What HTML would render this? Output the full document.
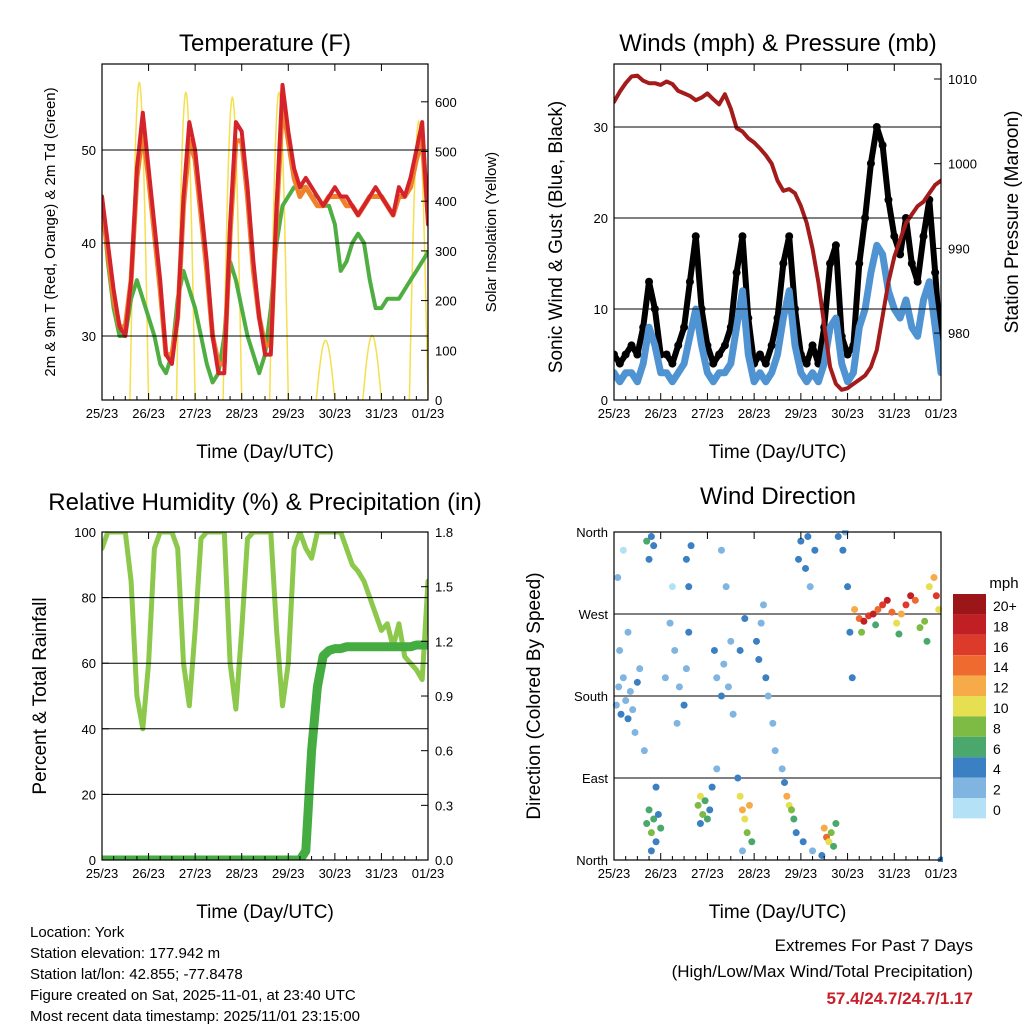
<!DOCTYPE html>
<html><head><meta charset="utf-8"><style>
body{margin:0;background:#fff;}
svg text{font-family:"Liberation Sans",sans-serif;}
</style></head><body>
<svg id="s" width="1024" height="1024" xmlns="http://www.w3.org/2000/svg"></svg>
<script>
// ---- data (3-hourly, day 0 = 25/23 .. day 7 = 01/23) ----
const dayLabels=["25/23","26/23","27/23","28/23","29/23","30/23","31/23","01/23"];
const tempRed=[45,40,35,31,30,36,48,54, 48,42,36,28,27,32,45,53, 50,44,38,30,26,26,42,53, 52,46,38,32,28,28,44,57, 52,48,46,47,46,45,44,45, 46,45,45,44,43,44,45,46, 45,44,43,46,45,47,50,53, 42];
const tempOrange=[44,39,34,31,31,36,47,52, 47,41,35,28,28,32,44,51, 49,43,37,30,27,27,41,51, 51,45,37,32,29,29,43,55, 51,47,45,46,45,44,44,45, 45,45,44,44,43,44,45,45, 45,44,43,45,45,46,49,51, 43];
const dewGreen=[45,38,33,30,30,34,36,34, 32,30,27,26,28,34,37,35, 33,30,27,25,26,30,38,36, 33,30,28,26,28,33,40,44, 45,46,46,46,45,45,44,44, 42,37,38,40,41,40,36,33, 33,34,34,34,35,36,37,38, 39];
const solarPeak=[640,620,610,620,120,130,560];
const windMean=[3,2,3,3,2,4,8,6, 3,3,2,3,4,7,10,6, 3,2,3,3,4,8,12,5, 2,3,2,3,5,9,12,6, 3,2,3,2,4,8,9,4, 2,3,8,10,14,17,16,12, 10,9,11,8,7,11,13,8, 3];
const windGust=[5,4,5,6,5,8,13,10, 5,5,4,6,8,13,18,10, 6,4,5,6,8,14,18,9, 4,5,4,6,9,15,18,10, 5,4,6,4,8,15,17,7, 5,6,15,20,26,30,28,22, 18,16,20,15,13,18,22,14, 5];
const pressure=[1007.3,1008.5,1009.5,1010.3,1010.4,1009.8,1009.5,1009.5, 1009.3,1009.7,1009.4,1008.6,1008.3,1008,1007.5,1007.8, 1008.3,1007.6,1007,1008.2,1006.5,1004.2,1003.8,1003, 1002.5,1001.8,1001,1000,998,996.8,997,996.5, 995,993,990,986,981,976,974,973.3, 973.5,974,974.5,975,976,978,982,986, 989,991,993,994,995,995.5,996.5,997.5, 998];
const rhPct=[95,100,100,100,100,85,50,40, 60,95,100,100,100,95,60,47, 70,98,100,100,100,100,60,46, 70,98,100,100,100,100,70,47, 60,95,100,95,92,100,100,100, 100,100,95,90,88,85,80,75, 70,72,65,72,62,60,58,55, 85];
const precipIn=[0,0,0,0,0,0,0,0, 0,0,0,0,0,0,0,0, 0,0,0,0,0,0,0,0, 0,0,0,0,0,0,0,0, 0,0,0,0.05,0.6,0.95,1.12,1.15, 1.16,1.16,1.17,1.17,1.17,1.17,1.17,1.17, 1.17,1.17,1.17,1.17,1.17,1.17,1.18,1.18, 1.18];
const wdDay=[0.05,0.1,0.15,0.2,0.25,0.3,0.35,0.4,0.45,0.5,0.55,0.12,0.3,0.08,0.2, 0.7,0.75,0.8,0.85,0.9,0.95,1.0,0.8,0.9,0.7,0.75,0.8,0.85,0.65, 1.1,1.2,1.3,1.4,1.5,1.55,1.25,1.35, 1.55,1.6,1.65,1.6, 1.8,1.85,1.9,1.95,2.0,2.05,1.85,2.1, 2.15,2.2,2.3,2.35,2.45,2.5,2.55,2.4,2.3,2.2, 2.7,2.75,2.8,2.85,2.9,2.95,2.65,2.75,2.7,2.8, 3.05,3.1,3.15,3.25,3.3,3.4,3.45,3.2, 3.7,3.75,3.8,3.85,3.65,3.9,3.6, 3.95,4.0,4.1,4.2,4.3,4.15,4.05,4.25, 4.5,4.55,4.6,4.65,4.7,4.75,4.45,4.8, 4.9,5.0,5.05,5.1,4.95, 5.15,5.25,5.35,5.45,5.55,5.65,5.75,5.85,5.95,6.05,6.15,6.25,6.35,6.45,6.55,6.65,6.75,6.85,6.9,6.95,5.3,5.6,6.1,6.7,7.0];
const wdDir=[170,190,160,200,175,155,185,165,140,195,210,230,250,310,340, 40,55,30,45,20,50,35,10,80,350,330,355,345,120, 200,260,230,190,170,210,300,150, 330,300,345,250, 60,70,50,65,45,55,40,80, 230,200,180,215,190,240,160,300,340,100, 70,55,45,30,60,20,90,10,230,265, 240,220,260,200,180,150,120,280, 70,60,55,45,85,30,100, 330,350,320,300,340,355,20,10, 35,25,20,30,15,40,5,355, 340,300,250,200,360, 275,265,262,268,270,275,280,285,272,260,270,280,290,285,255,262,300,310,290,275,250,258,248,240,0];
const wdSpd=[2,1,3,2,1,3,2,2,1,3,1,2,1,1,0, 5,6,7,6,4,3,5,3,3,5,4,4,3,2, 2,1,2,2,3,1,0,1, 4,3,4,3, 7,9,8,6,5,4,3,3, 3,2,3,2,1,2,1,1,2,1, 10,12,9,8,11,6,4,2,3,3, 4,3,2,3,2,1,1,2, 12,10,8,6,4,3,1, 4,3,4,2,3,4,3,2, 12,14,10,8,6,5,3,4, 3,4,4,3,2, 11,14,17,15,18,13,16,17,14,9,12,15,17,13,7,8,10,11,15,10,8,6,5,5,3];
const cbLabels=["20+","18","16","14","12","10","8","6","4","2","0"];
const cbColors=["#9b1519","#c01f24","#dc3a2a","#ee6a2e","#f6aa48","#e6df52","#7dbb45","#4aa86c","#3b80c2","#7fb5e0","#b5e1f6"];

const S=document.getElementById('s');const NS="http://www.w3.org/2000/svg";
function mk(tag,at,parent){const e=document.createElementNS(NS,tag);for(const k in at)e.setAttribute(k,at[k]);(parent||S).appendChild(e);return e;}
function txt(x,y,t,size,anchor,extra){const e=mk('text',Object.assign({x:x,y:y,'font-size':size,'text-anchor':anchor||'middle',fill:'#000'},extra||{}));e.textContent=t;return e;}

function panel(x0,y0,w,h,name){
  const g=mk('g',{});
  
  
  return {x0,y0,w,h,g,xs:d=>x0+d*w/7};
}
function frame(p){mk('rect',{x:p.x0,y:p.y0,width:p.w,height:p.h,fill:'none',stroke:'#000','stroke-width':1.2},p.g);}
function xaxis(p){
  for(let i=0;i<8;i++){const x=p.xs(i);
    mk('line',{x1:x,y1:p.y0+p.h,x2:x,y2:p.y0+p.h-7,stroke:'#000'},p.g);
    mk('line',{x1:x,y1:p.y0,x2:x,y2:p.y0+7,stroke:'#000'},p.g);
    for(let j=1;j<4&&i<7;j++){const xm=p.xs(i+j/4);mk('line',{x1:xm,y1:p.y0+p.h,x2:xm,y2:p.y0+p.h-4,stroke:'#000'},p.g);}
    const t=txt(x,p.y0+p.h+18,dayLabels[i],13);
    
    
  }
  const t=txt(p.x0+p.w/2,p.y0+p.h+58,"Time (Day/UTC)",19);
  
  
}
function yticks(p,vals,labels,ys,side,grid){
  vals.forEach((v,i)=>{const y=ys(v);
    if(grid&&y>p.y0+1&&y<p.y0+p.h-1)mk('line',{x1:p.x0,y1:y,x2:p.x0+p.w,y2:y,stroke:'#000','stroke-width':1},p.g);
    if(side==='l'){mk('line',{x1:p.x0,y1:y,x2:p.x0+7,y2:y,stroke:'#000'},p.g);
      const t=txt(p.x0-6,y+5,labels[i],13,'end');}
    else{mk('line',{x1:p.x0+p.w,y1:y,x2:p.x0+p.w-7,y2:y,stroke:'#000'},p.g);
      const t=txt(p.x0+p.w+7,y+5,labels[i],13,'start');}
  });
}
function vtitle(x,y,t,size,name){const e=txt(x,y,t,size,'middle',{transform:`rotate(-90 ${x} ${y})`});}
function title(x,y,t,name){const e=txt(x,y,t,24);}
function line(p,arr,ys,col,w,name){
  const pts=arr.map((v,i)=>p.xs(i/8).toFixed(1)+','+ys(v).toFixed(1)).join(' ');
  const e=mk('polyline',{points:pts,fill:'none',stroke:col,'stroke-width':w,'stroke-linejoin':'round','stroke-linecap':'round'},p.g);
  return e;
}

// Panel 1 Temperature
const p1=panel(102,64,326,336,'temperature-panel');
const ty=v=>336-(v-30)*9.3;
const sy=v=>400-v*0.497;
const cp1=mk('clipPath',{id:'c1'});mk('rect',{x:102,y:64,width:326,height:336},cp1);
const g1=mk('g',{'clip-path':'url(#c1)'},p1.g);
solarPeak.forEach((pk,d)=>{
  const c=d+0.8,hw=0.2;let pts=[];
  for(let k=0;k<=20;k++){const t=c-hw+k*2*hw/20;pts.push(p1.xs(t).toFixed(1)+','+sy(pk*Math.sin(Math.PI*k/20)).toFixed(1));}
  const e=mk('polyline',{points:pts.join(' '),fill:'none',stroke:'#f5df4d','stroke-width':1.5},g1);
  
  
});
const pg={x0:102,y0:64,w:326,h:336,g:g1,xs:p1.xs};
line(pg,dewGreen,ty,'#4fae42',4,'dewpoint-line');
line(pg,tempOrange,ty,'#f0802a',5,'temp-9m-line');
line(pg,tempRed,ty,'#d4232a',4,'temp-2m-line');
yticks(p1,[30,40,50],["30","40","50"],ty,'l',true);
yticks(p1,[0,100,200,300,400,500,600],["0","100","200","300","400","500","600"],sy,'r',false);
frame(p1);xaxis(p1);
title(265,51,"Temperature (F)",'temperature-title');
vtitle(55,232,"2m & 9m T (Red, Orange) & 2m Td (Green)",15,'temp-y-title');
vtitle(496,232,"Solar Insolation (Yellow)",15,'solar-y-title');

// Panel 2 Winds
const p2=panel(614,64,327,336,'winds-panel');
const wy=v=>400-v*9.1; const py=v=>79+(1010-v)*8.47;
const cp2=mk('clipPath',{id:'c2'});mk('rect',{x:614,y:64,width:327,height:336},cp2);
const g2=mk('g',{'clip-path':'url(#c2)'},p2.g);
const pg2={x0:614,y0:64,w:327,h:336,g:g2,xs:p2.xs};
line(pg2,windGust,wy,'#000',6,'gust-line');
windGust.forEach((v,i)=>{const c=mk('circle',{cx:p2.xs(i/8),cy:wy(v),r:4,fill:'#000'},g2);});
line(pg2,windMean,wy,'#4f93d2',7,'wind-line');
line(pg2,pressure,py,'#a31b1b',4,'pressure-line');
yticks(p2,[0,10,20,30],["0","10","20","30"],wy,'l',true);
yticks(p2,[980,990,1000,1010],["980","990","1000","1010"],py,'r',false);
frame(p2);xaxis(p2);
title(778,51,"Winds (mph) & Pressure (mb)",'winds-title');
vtitle(562,237,"Sonic Wind & Gust (Blue, Black)",19,'wind-y-title');
vtitle(1018,222,"Station Pressure (Maroon)",19,'pressure-y-title');

// Panel 3 RH & precip
const p3=panel(102,532,326,328,'humidity-panel');
const ry=v=>860-v*3.28; const qy=v=>860-v*182.2;
const cp3=mk('clipPath',{id:'c3'});mk('rect',{x:102,y:532,width:326,height:328},cp3);
const g3=mk('g',{'clip-path':'url(#c3)'},p3.g);
const pg3={x0:102,y0:532,w:326,h:328,g:g3,xs:p3.xs};
yticks(p3,[0,20,40,60,80,100],["0","20","40","60","80","100"],ry,'l',true);
line(pg3,rhPct,ry,'#8cc84b',5,'rh-line');
line(pg3,precipIn,qy,'#45ac42',9,'precip-line');
yticks(p3,[0,0.3,0.6,0.9,1.2,1.5,1.8],["0.0","0.3","0.6","0.9","1.2","1.5","1.8"],qy,'r',false);
frame(p3);xaxis(p3);
title(265,510,"Relative Humidity (%) & Precipitation (in)",'humidity-title');
vtitle(46,696,"Percent & Total Rainfall",19,'rh-y-title');

// Panel 4 Wind direction
const p4=panel(614,532,327,328,'wind-direction-panel');
const dy=v=>860-v*328/360;
yticks(p4,[0,90,180,270,360],["North","East","South","West","North"],dy,'l',true);
const cp4=mk('clipPath',{id:'c4'});mk('rect',{x:612,y:530,width:331,height:332},cp4);
const g4=mk('g',{'clip-path':'url(#c4)'},p4.g);
function spdColor(s){let b=Math.min(10,Math.floor(s/2+0.5));return cbColors[10-b];}
wdDay.forEach((d,i)=>{
  const c=mk('circle',{cx:p4.xs(d),cy:dy(wdDir[i]),r:3.5,fill:spdColor(wdSpd[i])},g4);
  
  
});
frame(p4);xaxis(p4);
title(778,504,"Wind Direction",'wind-direction-title');
vtitle(540,696,"Direction (Colored By Speed)",19,'direction-y-title');
const cb=mk('g',{});
const ct=txt(1004,588,"mph",15);
cbColors.forEach((c,i)=>{const r=mk('rect',{x:953,y:594+i*20.4,width:33,height:20.4,fill:c},cb);
  
  const t=txt(993,611+i*20.4,cbLabels[i],14,'start');});

// footer
const info=["Location: York","Station elevation: 177.942 m","Station lat/lon: 42.855; -77.8478","Figure created on Sat, 2025-11-01, at 23:40 UTC","Most recent data timestamp: 2025/11/01 23:15:00"];
info.forEach((s,i)=>{const t=txt(30,937+i*21,s,15,'start');});
let e=txt(973,951,"Extremes For Past 7 Days",17,'end');
e=txt(973,977,"(High/Low/Max Wind/Total Precipitation)",17,'end');
e=txt(973,1004,"57.4/24.7/24.7/1.17",17,'end',{'font-weight':'bold',fill:'#c8202a'});
</script>
</body></html>
